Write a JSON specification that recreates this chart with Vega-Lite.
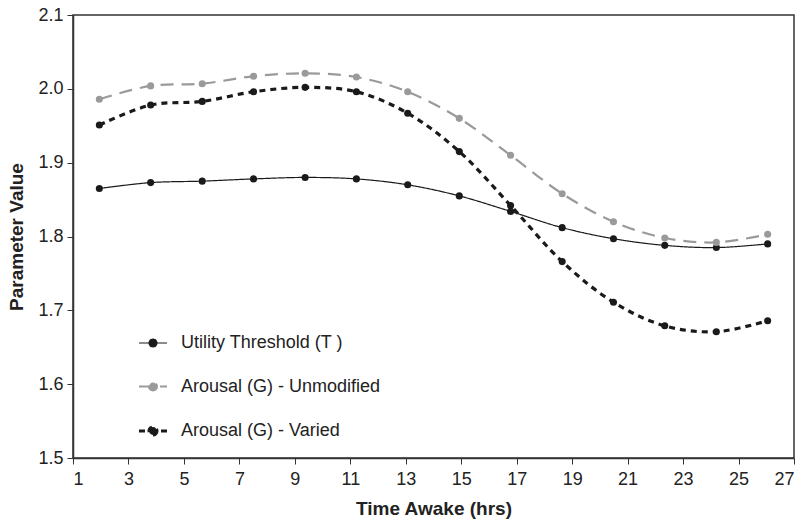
{
  "$schema": "https://vega.github.io/schema/vega-lite/v6.json",
  "width": 721,
  "height": 443,
  "autosize": "none",
  "padding": {"left": 73, "top": 15, "right": 11, "bottom": 66},
  "background": "white",
  "config": {
    "font": "Liberation Sans",
    "view": {"stroke": "#333333", "strokeWidth": 1.5},
    "axis": {
      "grid": false,
      "domainColor": "#333333",
      "domainWidth": 1.5,
      "tickColor": "#333333",
      "tickWidth": 1,
      "tickSize": 6,
      "labelFont": "Liberation Sans",
      "labelFontSize": 18,
      "labelColor": "#222222",
      "titleFont": "Liberation Sans",
      "titleFontSize": 19,
      "titleFontWeight": "bold",
      "titleColor": "#222222"
    }
  },
  "data": {
    "values": [
      {"t": 1.95, "series": "Utility Threshold (T )", "v": 1.865},
      {"t": 3.80, "series": "Utility Threshold (T )", "v": 1.873},
      {"t": 5.66, "series": "Utility Threshold (T )", "v": 1.875},
      {"t": 7.51, "series": "Utility Threshold (T )", "v": 1.878},
      {"t": 9.37, "series": "Utility Threshold (T )", "v": 1.880},
      {"t": 11.22, "series": "Utility Threshold (T )", "v": 1.878},
      {"t": 13.07, "series": "Utility Threshold (T )", "v": 1.870},
      {"t": 14.93, "series": "Utility Threshold (T )", "v": 1.855},
      {"t": 16.78, "series": "Utility Threshold (T )", "v": 1.834},
      {"t": 18.64, "series": "Utility Threshold (T )", "v": 1.812},
      {"t": 20.49, "series": "Utility Threshold (T )", "v": 1.797},
      {"t": 22.34, "series": "Utility Threshold (T )", "v": 1.788},
      {"t": 24.20, "series": "Utility Threshold (T )", "v": 1.785},
      {"t": 26.05, "series": "Utility Threshold (T )", "v": 1.790},
      {"t": 1.95, "series": "Arousal (G) - Unmodified", "v": 1.986},
      {"t": 3.80, "series": "Arousal (G) - Unmodified", "v": 2.004},
      {"t": 5.66, "series": "Arousal (G) - Unmodified", "v": 2.007},
      {"t": 7.51, "series": "Arousal (G) - Unmodified", "v": 2.017},
      {"t": 9.37, "series": "Arousal (G) - Unmodified", "v": 2.021},
      {"t": 11.22, "series": "Arousal (G) - Unmodified", "v": 2.016},
      {"t": 13.07, "series": "Arousal (G) - Unmodified", "v": 1.996},
      {"t": 14.93, "series": "Arousal (G) - Unmodified", "v": 1.960},
      {"t": 16.78, "series": "Arousal (G) - Unmodified", "v": 1.910},
      {"t": 18.64, "series": "Arousal (G) - Unmodified", "v": 1.858},
      {"t": 20.49, "series": "Arousal (G) - Unmodified", "v": 1.820},
      {"t": 22.34, "series": "Arousal (G) - Unmodified", "v": 1.798},
      {"t": 24.20, "series": "Arousal (G) - Unmodified", "v": 1.792},
      {"t": 26.05, "series": "Arousal (G) - Unmodified", "v": 1.803},
      {"t": 1.95, "series": "Arousal (G) - Varied", "v": 1.951},
      {"t": 3.80, "series": "Arousal (G) - Varied", "v": 1.978},
      {"t": 5.66, "series": "Arousal (G) - Varied", "v": 1.983},
      {"t": 7.51, "series": "Arousal (G) - Varied", "v": 1.996},
      {"t": 9.37, "series": "Arousal (G) - Varied", "v": 2.002},
      {"t": 11.22, "series": "Arousal (G) - Varied", "v": 1.996},
      {"t": 13.07, "series": "Arousal (G) - Varied", "v": 1.967},
      {"t": 14.93, "series": "Arousal (G) - Varied", "v": 1.915},
      {"t": 16.78, "series": "Arousal (G) - Varied", "v": 1.842},
      {"t": 18.64, "series": "Arousal (G) - Varied", "v": 1.766},
      {"t": 20.49, "series": "Arousal (G) - Varied", "v": 1.711},
      {"t": 22.34, "series": "Arousal (G) - Varied", "v": 1.679},
      {"t": 24.20, "series": "Arousal (G) - Varied", "v": 1.671},
      {"t": 26.05, "series": "Arousal (G) - Varied", "v": 1.686}
    ]
  },
  "encoding": {
    "x": {
      "field": "t", "type": "quantitative",
      "scale": {"domain": [1, 27], "nice": false, "zero": false},
      "axis": {"values": [1,3,5,7,9,11,13,15,17,19,21,23,25,27], "title": "Time Awake (hrs)", "labelPadding": 6, "titlePadding": 11}
    },
    "y": {
      "field": "v", "type": "quantitative",
      "scale": {"domain": [1.5, 2.1], "nice": false, "zero": false},
      "axis": {"values": [1.5,1.6,1.7,1.8,1.9,2.0,2.1], "format": ".1f", "title": "Parameter Value", "labelPadding": 4, "titlePadding": 11}
    }
  },
  "layer": [
    {
      "mark": {"type": "line", "interpolate": "catmull-rom"},
      "encoding": {
        "color": {
          "field": "series", "type": "nominal",
          "scale": {"domain": ["Utility Threshold (T )", "Arousal (G) - Unmodified", "Arousal (G) - Varied"], "range": ["#1a1a1a", "#9a9a9a", "#1a1a1a"]},
          "legend": {
            "title": null,
            "orient": "none",
            "legendX": 64,
            "legendY": 313,
            "symbolType": "M-1,0H1M0.28,0A0.28,0.28 0 1,1 -0.28,0A0.28,0.28 0 1,1 0.28,0Z",
            "symbolSize": 784,
            "rowPadding": 19,
            "labelFontSize": 18,
            "labelFont": "Liberation Sans",
            "labelColor": "#222222",
            "labelOffset": 12,
            "labelLimit": 0,
            "encode": {"symbols": {"update": {"fill": {"scale": "color", "field": "value"}}}}
          }
        },
        "strokeDash": {
          "field": "series", "type": "nominal",
          "scale": {"domain": ["Utility Threshold (T )", "Arousal (G) - Unmodified", "Arousal (G) - Varied"], "range": [[1, 0], [13, 8], [6, 5]]},
          "legend": null
        },
        "strokeWidth": {
          "field": "series", "type": "nominal",
          "scale": {"domain": ["Utility Threshold (T )", "Arousal (G) - Unmodified", "Arousal (G) - Varied"], "range": [1.2, 3.2, 2.8]},
          "legend": null
        }
      }
    },
    {
      "mark": {"type": "point", "filled": true, "size": 50, "opacity": 1},
      "encoding": {
        "color": {"field": "series", "type": "nominal", "legend": null}
      }
    }
  ]
}
